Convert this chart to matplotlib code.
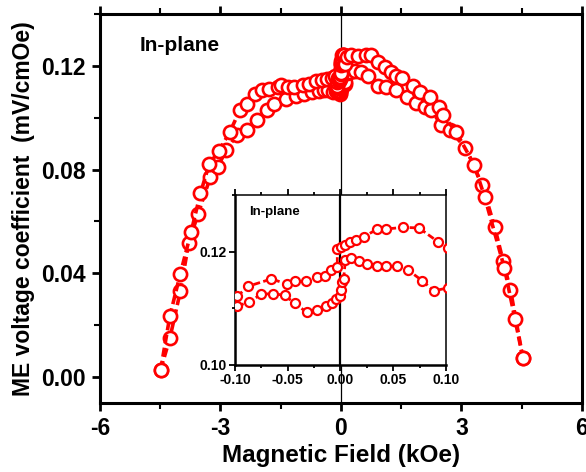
import matplotlib

matplotlib.use("Agg")
import matplotlib.pyplot as plt
from matplotlib.ticker import FormatStrFormatter, MultipleLocator

plt.rcParams["font.family"] = ["Liberation Sans", "DejaVu Sans"]
plt.rcParams["font.weight"] = "bold"

# Field sweep that sits higher on the negative side (kOe, mV/cmOe), |H| > 0.1 kOe
UPPER_LEFT_FIELD = [-4.49, -4.26, -4.00, -3.73, -3.50, -3.28, -3.04, -2.77, -2.52, -2.33,
                    -2.14, -1.96, -1.79, -1.58, -1.50, -1.32, -1.17, -0.95, -0.80, -0.62,
                    -0.48, -0.35, -0.22, -0.14]
UPPER_LEFT_ME = [0.0028, 0.0235, 0.0398, 0.0560, 0.0708, 0.0821, 0.0872, 0.0944, 0.1028, 0.1051,
                 0.1092, 0.1107, 0.1111, 0.1120, 0.1128, 0.1120, 0.1117, 0.1125, 0.1130, 0.1140,
                 0.1147, 0.1150, 0.1153, 0.1160]
UPPER_RIGHT_FIELD = [0.16, 0.25, 0.42, 0.62, 0.75, 0.92, 1.10, 1.25, 1.38, 1.52,
                     1.79, 1.96, 2.21, 2.43, 2.54, 2.87, 3.32, 3.58, 4.07, 4.33, 4.53]
UPPER_RIGHT_ME = [0.1235, 0.1240, 0.1239, 0.1243, 0.1240, 0.1213, 0.1194, 0.1175, 0.1162, 0.1153,
                  0.1124, 0.1098, 0.1079, 0.1043, 0.1009, 0.0945, 0.0817, 0.0693, 0.0420, 0.0225,
                  0.0073]

# Field sweep that sits lower on the negative side
LOWER_LEFT_FIELD = [-4.49, -4.26, -4.00, -3.79, -3.56, -3.25, -3.07, -2.85, -2.60, -2.33,
                    -2.10, -1.83, -1.67, -1.38, -1.13, -0.92, -0.72, -0.55, -0.42, -0.33,
                    -0.20, -0.13]
LOWER_LEFT_ME = [0.0028, 0.0150, 0.0330, 0.0518, 0.0628, 0.0772, 0.0810, 0.0877, 0.0932, 0.0954,
                 0.0990, 0.1028, 0.1051, 0.1073, 0.1085, 0.1092, 0.1098, 0.1103, 0.1108, 0.1105,
                 0.1100, 0.1102]
LOWER_RIGHT_FIELD = [0.15, 0.22, 0.35, 0.50, 0.67, 0.92, 1.13, 1.38, 1.65, 1.86,
                     2.08, 2.25, 2.50, 2.71, 3.10, 3.52, 3.83, 4.04, 4.22, 4.53]
LOWER_RIGHT_ME = [0.1172, 0.1178, 0.1180, 0.1175, 0.1162, 0.1124, 0.1117, 0.1107, 0.1081, 0.1056,
                  0.1043, 0.1030, 0.0970, 0.0951, 0.0885, 0.0740, 0.0577, 0.0446, 0.0337, 0.0073]

# Low-field detail, |H| <= 0.1 kOe (inset)
INSET_UPPER_FIELD = [-0.098, -0.0875, -0.0654, -0.051, -0.0433, -0.033, -0.0227, -0.0149, -0.0088,
                     -0.003, -0.003, 0.0006, 0.0047, 0.0095, 0.0149, 0.022, 0.0348, 0.0427,
                     0.0594, 0.0743, 0.0922, 0.1017]
INSET_UPPER_ME = [0.1121, 0.1139, 0.1152, 0.1143, 0.1149, 0.1149, 0.1155, 0.1158, 0.1167,
                  0.1173, 0.1205, 0.1208, 0.1212, 0.1217, 0.1220, 0.1226, 0.1240, 0.1240,
                  0.1243, 0.1242, 0.1218, 0.1207]
INSET_LOWER_FIELD = [-0.098, -0.087, -0.075, -0.0638, -0.053, -0.0433, -0.032, -0.022, -0.0133,
                     -0.0085, -0.0047, 0.0, 0.0005, 0.0016, 0.003, 0.0047, 0.0104, 0.018,
                     0.025, 0.0348, 0.0427, 0.0537, 0.0638, 0.0774, 0.0885, 0.1017]
INSET_LOWER_ME = [0.1104, 0.1111, 0.1125, 0.1126, 0.1123, 0.1109, 0.1093, 0.1097, 0.1104,
                  0.1110, 0.1116, 0.1122, 0.1133, 0.1147, 0.1152, 0.1186, 0.1189, 0.1183,
                  0.1178, 0.1175, 0.1174, 0.1175, 0.1168, 0.1149, 0.1131, 0.1136]

RED = "#ff0000"


def draw_branch(axis, field, me, size, line_width, edge_width):
    axis.plot(field, me, color=RED, linestyle=(0, (2.5, 1.2)), linewidth=line_width,
              marker="o", markersize=size, markerfacecolor="white",
              markeredgecolor=RED, markeredgewidth=edge_width, zorder=3)


def main():
    figure = plt.figure(figsize=(5.86, 4.72), dpi=100)
    axis = figure.add_axes([0.1706, 0.1462, 0.8225, 0.8242])

    upper_field = UPPER_LEFT_FIELD + INSET_UPPER_FIELD + UPPER_RIGHT_FIELD
    upper_me = UPPER_LEFT_ME + INSET_UPPER_ME + UPPER_RIGHT_ME
    lower_field = LOWER_LEFT_FIELD + INSET_LOWER_FIELD + LOWER_RIGHT_FIELD
    lower_me = LOWER_LEFT_ME + INSET_LOWER_ME + LOWER_RIGHT_ME
    axis.axvline(0, color="black", linewidth=0.9, zorder=1)
    draw_branch(axis, lower_field, lower_me, 9.5, 2.6, 1.9)
    draw_branch(axis, upper_field, upper_me, 9.5, 2.6, 1.9)

    axis.set_xlim(-6, 6)
    axis.set_ylim(-0.01, 0.14)
    axis.xaxis.set_major_locator(MultipleLocator(3))
    axis.xaxis.set_minor_locator(MultipleLocator(1.5))
    axis.yaxis.set_major_locator(MultipleLocator(0.04))
    axis.yaxis.set_minor_locator(MultipleLocator(0.02))
    axis.yaxis.set_major_formatter(FormatStrFormatter("%.2f"))
    axis.xaxis.set_major_formatter(FormatStrFormatter("%d"))
    for spine in axis.spines.values():
        spine.set_linewidth(2.2)
    axis.tick_params(which="both", direction="out", labelsize=16.5, width=2)
    axis.tick_params(which="major", length=6, pad=4)
    axis.tick_params(which="minor", length=4, width=1.5)
    axis.tick_params(which="both", top=True, labeltop=False)
    axis.set_xlabel("Magnetic Field (kOe)", fontsize=17.5, fontweight="bold", labelpad=3)
    axis.set_ylabel("ME voltage coefficient  (mV/cmOe)", fontsize=16.5,
                    fontweight="bold", labelpad=5)
    axis.text(0.083, 0.92, "In-plane", transform=axis.transAxes, fontsize=15,
              fontweight="bold", ha="left", va="center")

    inset = figure.add_axes([0.401, 0.2267, 0.360, 0.360])
    inset.axvline(0, color="black", linewidth=1.6, zorder=1)
    draw_branch(inset, INSET_LOWER_FIELD, INSET_LOWER_ME, 6.5, 2.0, 1.6)
    draw_branch(inset, INSET_UPPER_FIELD, INSET_UPPER_ME, 6.5, 2.0, 1.6)
    inset.set_xlim(-0.1, 0.1)
    inset.set_ylim(0.10, 0.13)
    inset.xaxis.set_major_locator(MultipleLocator(0.05))
    inset.xaxis.set_minor_locator(MultipleLocator(0.025))
    inset.yaxis.set_major_locator(MultipleLocator(0.02))
    inset.yaxis.set_minor_locator(MultipleLocator(0.01))
    inset.xaxis.set_major_formatter(FormatStrFormatter("%.2f"))
    inset.yaxis.set_major_formatter(FormatStrFormatter("%.2f"))
    inset.spines["left"].set_linewidth(1.8)
    inset.spines["bottom"].set_linewidth(1.8)
    inset.spines["top"].set_linewidth(1.1)
    inset.spines["right"].set_linewidth(1.1)
    inset.tick_params(which="both", direction="out", labelsize=10, width=1.3, pad=2)
    inset.tick_params(which="major", length=4)
    inset.tick_params(which="minor", length=2.5)
    inset.tick_params(axis="x", which="both", top=True)
    inset.text(0.066, 0.90, "In-plane", transform=inset.transAxes, fontsize=9.5,
               fontweight="bold", ha="left", va="center")

    figure.savefig("out.png", dpi=100)
    plt.close(figure)


if __name__ == "__main__":
    main()
